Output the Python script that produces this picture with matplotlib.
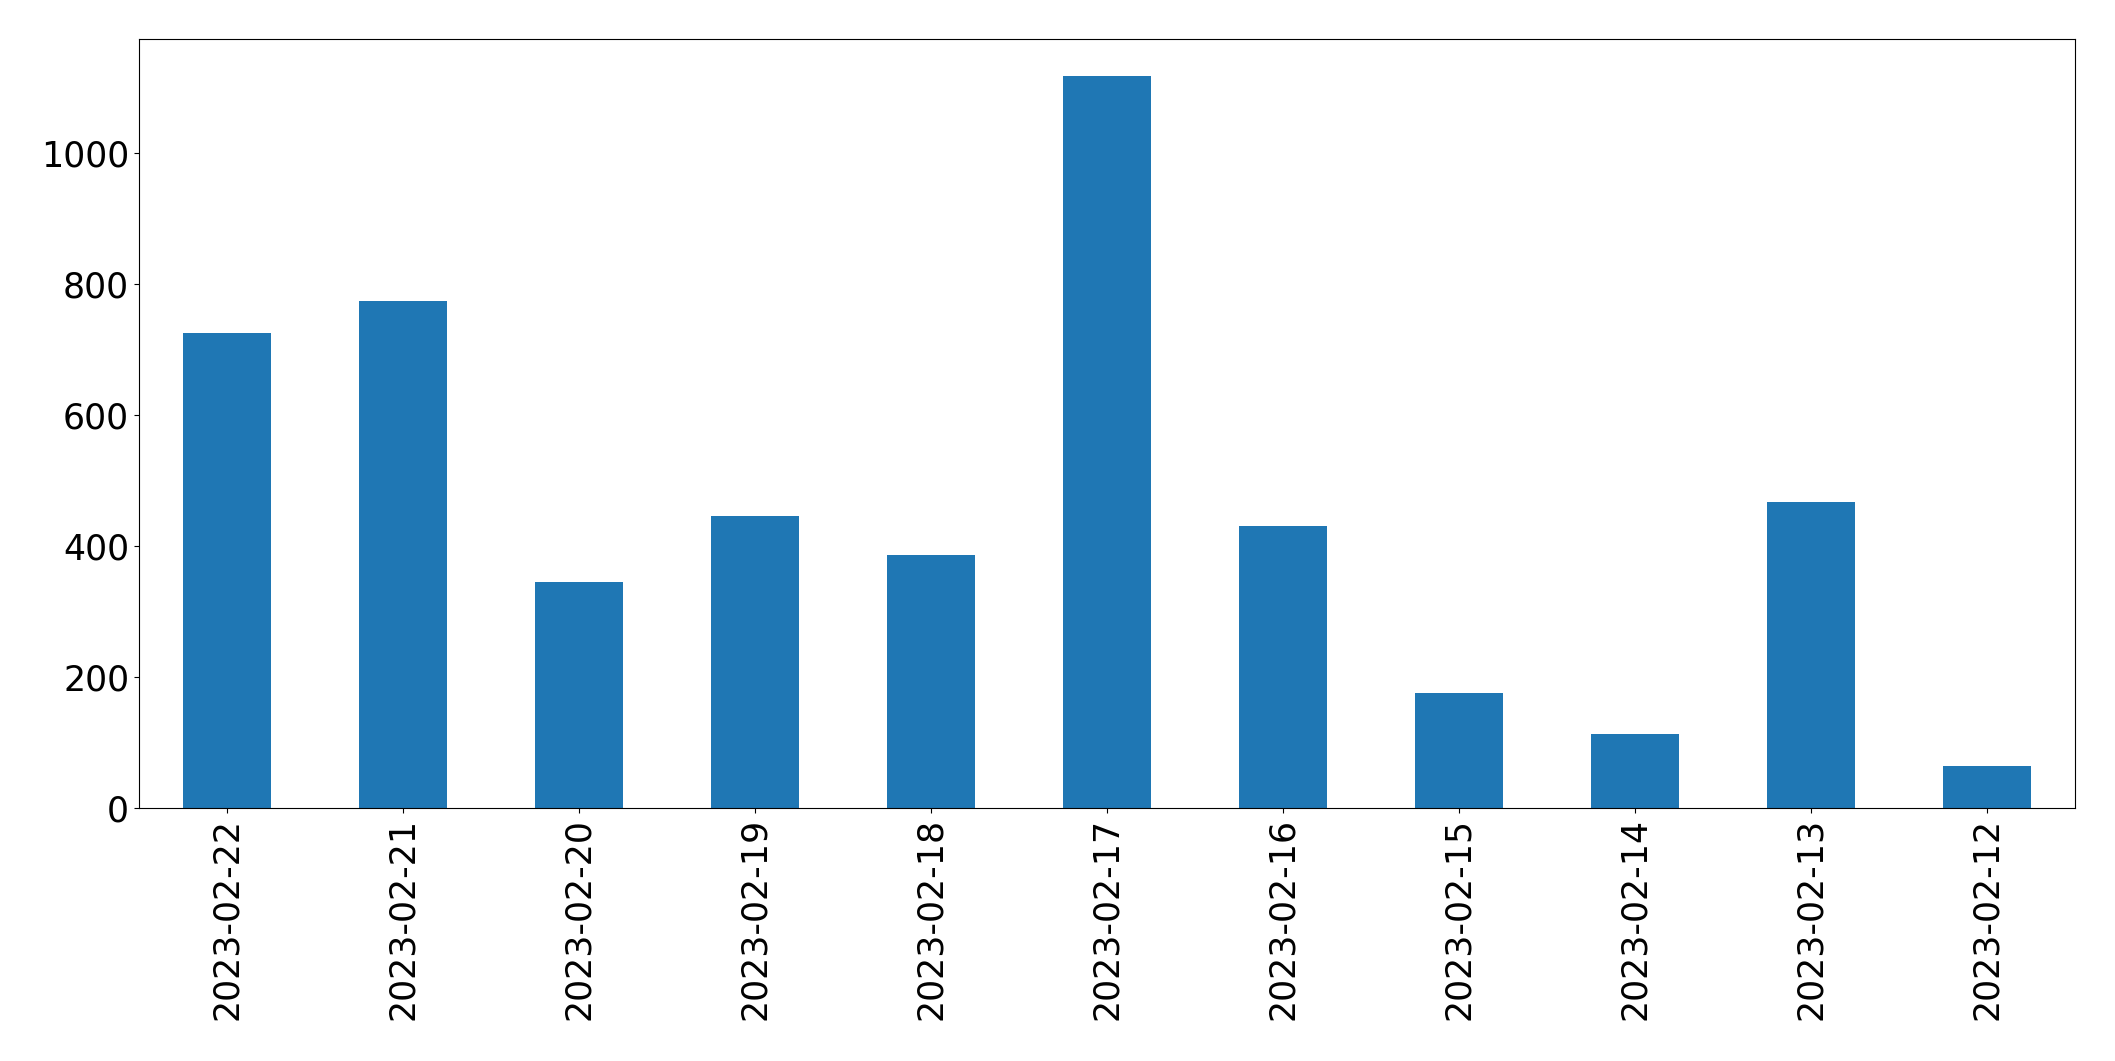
import matplotlib
matplotlib.use("Agg")
import matplotlib.pyplot as plt
import numpy as np

# dates (newest first) and counts
dates = ["2023-02-22", "2023-02-21", "2023-02-20", "2023-02-19", "2023-02-18",
         "2023-02-17", "2023-02-16", "2023-02-15", "2023-02-14", "2023-02-13",
         "2023-02-12"]
counts = [726, 774, 345, 447, 387, 1118, 431, 176, 114, 468, 65]

fig = plt.figure(figsize=(21.15, 10.61), dpi=100)
ax = fig.add_axes([0.0657, 0.238, 0.9153, 0.725])

x = np.arange(len(dates))
ax.bar(x, counts, width=0.5, color="#1f77b4")
ax.set_xlim(-0.5, len(dates) - 0.5)
ax.set_xticks(x)
ax.set_xticklabels(dates, rotation=90)
ax.tick_params(axis="both", labelsize=25)

fig.savefig("out.png", dpi=100)
